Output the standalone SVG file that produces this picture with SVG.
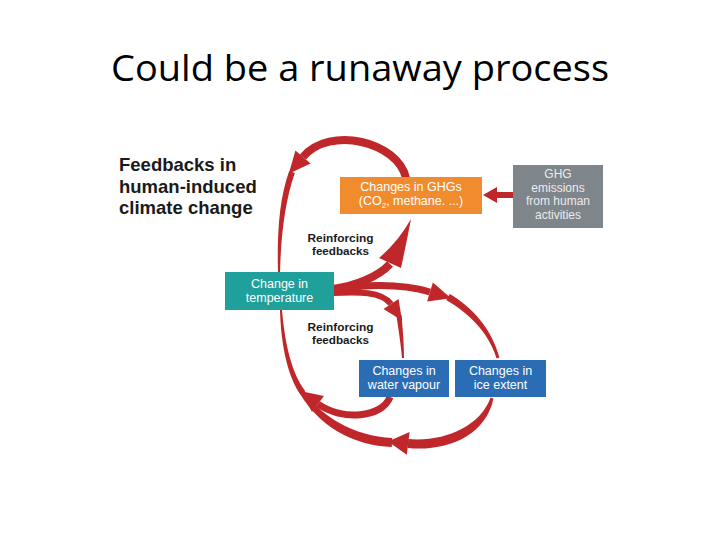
<svg xmlns="http://www.w3.org/2000/svg" width="720" height="540" viewBox="0 0 720 540">
<style>
.title{font-family:"Open Sans","Liberation Sans",sans-serif;font-size:36px;fill:#000}
.head{font-family:"Liberation Sans",Arial,sans-serif;font-weight:bold;font-size:18.5px;fill:#1a1a1a}
.rf{font-family:"Liberation Sans",Arial,sans-serif;font-weight:bold;font-size:11px;fill:#1a1a1a;text-anchor:middle}
.lbl{font-family:"Liberation Sans",Arial,sans-serif;font-size:12.5px;fill:#fff;text-anchor:middle}
.lbg{font-family:"Liberation Sans",Arial,sans-serif;font-size:12px;fill:#ececec;text-anchor:middle}
.r{fill:#BF272B}
.rs{fill:none;stroke:#BF272B;stroke-linecap:butt}
</style>
<rect width="720" height="540" fill="#fff"/>
<text class="title" x="111" y="81" textLength="498" lengthAdjust="spacingAndGlyphs">Could be a runaway process</text>
<g id="heading">
<text class="head" x="119" y="171">Feedbacks in</text>
<text class="head" x="119" y="192.5">human-induced</text>
<text class="head" x="119" y="214">climate change</text>
</g>
<g id="labels">
<text class="rf" x="340.5" y="242" textLength="66" lengthAdjust="spacingAndGlyphs">Reinforcing</text>
<text class="rf" x="340.5" y="254.5" textLength="57" lengthAdjust="spacingAndGlyphs">feedbacks</text>
<text class="rf" x="340.5" y="331" textLength="66" lengthAdjust="spacingAndGlyphs">Reinforcing</text>
<text class="rf" x="340.5" y="343.5" textLength="57" lengthAdjust="spacingAndGlyphs">feedbacks</text>
</g>
<g id="connectors">
<path class="rs" stroke-width="8" d="M406,178 C398,142 330,125 303,157"/>
<polygon class="r" points="310.6,163.5 288.8,173.8 295.4,150.5"/>
<path class="r" d="M289.2,171 C279,199 277,235 278,272 L280,272 C281,235 285,201 294.8,173 Z"/>
<path class="rs" stroke-width="8" d="M333,289 C355,286 378,277 390,264"/>
<path class="r" d="M379,258 Q398,242 411,219 Q406,245 401,268 Z"/>
<path class="rs" stroke-width="7" d="M333,291 C360,284 400,283 430,292"/>
<polygon class="r" points="432.9,282.4 451,298.3 427.1,301.6"/>
<path class="r" d="M449.8,294 C472,307 492,329 499.4,357.6 L496.6,358.4 C488,331 468,313 446.2,300 Z"/>
<path class="rs" stroke-width="6" d="M333,293 C358,292 381,291 391,304"/>
<polygon class="r" points="383.5,309 402,320.6 398.5,299"/>
<path class="r" d="M396.5,316 C399,333 401,346 402,358 L404,358 C404,345 403,332 401.5,315 Z"/>
<path class="rs" stroke-width="7" d="M390,397 C382,418 342,421 318,404"/>
<polygon class="r" points="323.9,395.9 300.2,391 312.1,412.1"/>
<path class="r" d="M305.4,391.2 C292,374 285,345 282,310 L280,310 C281,346 288,377 300.6,394.8 Z"/>
<path class="r" d="M493.4,398.5 C486,436 446,452 407.7,448 L408.3,439 C444,442 480,427 490.6,397.5 Z"/>
<polygon class="r" points="409.6,432 388,441.5 406.8,454.8"/>
<path class="r" d="M392.2,438 C355,436 320,418 298.3,384.2 L295.7,385.8 C316,427 355,446 391.8,447 Z"/>
<path class="r" d="M513,192 L497,192 L497,187 L483,195 L497,203 L497,198 L513,198 Z"/>
</g>
<g id="ghg-changes">
<rect x="340" y="177" width="142" height="37" fill="#F08B2E"/>
<text class="lbl" x="411" y="191">Changes in GHGs</text>
<text class="lbl" x="411" y="205">(CO<tspan font-size="8" dy="3">2</tspan><tspan dy="-3">, methane. ...)</tspan></text>
</g>
<g id="ghg-emissions">
<rect x="513" y="165" width="90" height="63" fill="#7E858B"/>
<text class="lbg" x="558" y="178">GHG</text>
<text class="lbg" x="558" y="191.5">emissions</text>
<text class="lbg" x="558" y="205">from human</text>
<text class="lbg" x="558" y="218.5">activities</text>
</g>
<g id="temperature">
<rect x="225" y="272" width="109" height="38" fill="#1FA09A"/>
<text class="lbl" x="279.5" y="288">Change in</text>
<text class="lbl" x="279.5" y="302">temperature</text>
</g>
<g id="water-vapour">
<rect x="359" y="360" width="90" height="37" fill="#2A6DB4"/>
<text class="lbl" x="404" y="375">Changes in</text>
<text class="lbl" x="404" y="389">water vapour</text>
</g>
<g id="ice-extent">
<rect x="455" y="360" width="91" height="37" fill="#2A6DB4"/>
<text class="lbl" x="500.5" y="375">Changes in</text>
<text class="lbl" x="500.5" y="389">ice extent</text>
</g>
</svg>
